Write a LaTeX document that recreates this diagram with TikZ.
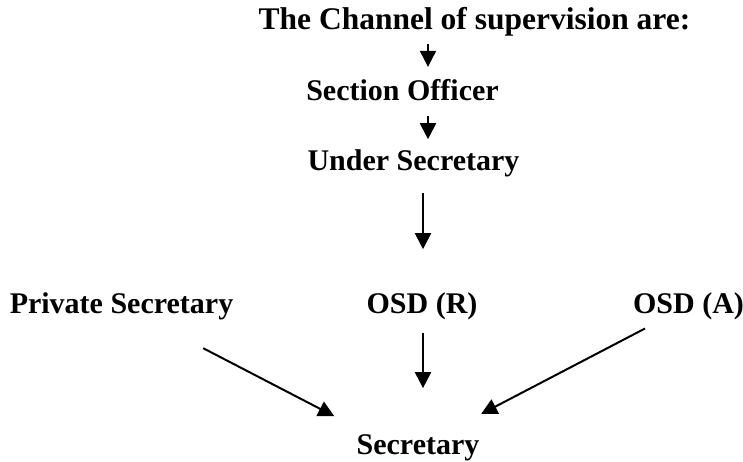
\documentclass[tikz,border=0pt]{standalone}
\usepackage{fontspec}
\setmainfont{Liberation Serif}
\usetikzlibrary{arrows.meta,calc}

\begin{document}
\begin{tikzpicture}[
    x=1pt, y=-1pt,
    rank/.style={inner sep=0pt, outer sep=0pt, anchor=base, font=\fontsize{30}{36}\selectfont\bfseries},
    arrow/.style={-{Triangle[width=16pt,length=16pt]}, line width=2pt}
]
    \useasboundingbox (0,0) rectangle (743,461);
    \coordinate (topaxis) at (428,0);
    \coordinate (lowaxis) at (423,0);

    % Upper chain
    \node[rank, font=\fontsize{31.5}{36}\selectfont\bfseries] (title) at (474.5,29) {The Channel of supervision are:};
    \node[rank] (secoff) at (402.5,100) {Section Officer};
    \node[rank] (undersec) at (413.5,170) {Under Secretary};

    \draw[arrow, shorten <=8pt, shorten >=12pt] (title.south -| topaxis) -- (secoff.north -| topaxis);
    \draw[arrow, shorten <=15.5pt, shorten >=10pt] (secoff.south -| topaxis) -- (undersec.north -| topaxis);

    % Middle row
    \node[rank] (privsec) at (121.5,313) {Private Secretary};
    \node[rank] (osdr) at (422,313) {OSD (R)};
    \node[rank] (osda) at (688.5,313) {OSD (A)};

    \draw[arrow, shorten <=16.5pt, shorten >=43pt] (undersec.south -| lowaxis) -- (osdr.north -| lowaxis);

    % Final level
    \node[rank] (sec) at (418,454) {Secretary};

    \draw[arrow, shorten <=14pt, shorten >=46pt] (osdr.south -| lowaxis) -- (sec.north -| lowaxis);
    \draw[arrow, shorten <=92pt, shorten >=39pt] (privsec.center) -- ($(sec.north)!0.8!(sec.north west)$);
    \draw[arrow, shorten <=49pt, shorten >=43.5pt] (osda.center) -- ($(sec.north)!0.4!(sec.north east)$);
\end{tikzpicture}
\end{document}
